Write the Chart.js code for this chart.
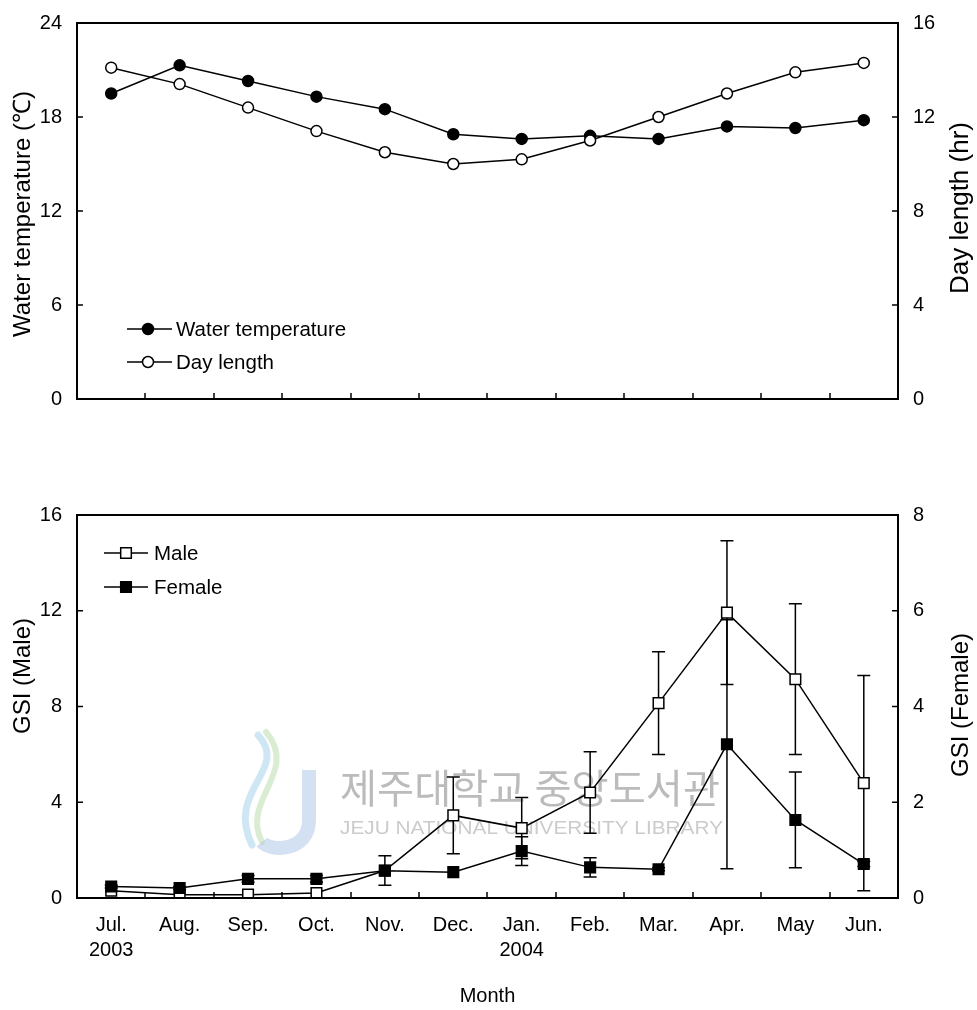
<!DOCTYPE html>
<html><head><meta charset="utf-8">
<script src="https://cdn.jsdelivr.net/npm/chart.js@4.4.1/dist/chart.umd.min.js"></script>
<style>
html,body{margin:0;padding:0;background:#fff;}
#wrap{position:relative;width:977px;height:1010px;overflow:hidden;}
#c1{position:absolute;left:0;top:-4px;}
#c2{position:absolute;left:0;top:460px;}
</style></head><body>
<div id="wrap"><canvas id="c1" width="977" height="454"></canvas><canvas id="c2" width="977" height="550"></canvas></div>
<script>
// ---------- data ----------
const months = ['Jul.','Aug.','Sep.','Oct.','Nov.','Dec.','Jan.','Feb.','Mar.','Apr.','May','Jun.'];
const years  = ['2003','','','','','','2004','','','','',''];
const waterTemp = [19.5, 21.3, 20.3, 19.3, 18.5, 16.9, 16.6, 16.8, 16.6, 17.4, 17.3, 17.8];
const dayLength = [14.1, 13.4, 12.4, 11.4, 10.5, 10.0, 10.2, 11.0, 12.0, 13.0, 13.9, 14.3];
const maleGSI   = [0.3, 0.14, 0.14, 0.21, 1.15, 3.45, 2.92, 4.41, 8.14, 11.92, 9.14, 4.8];
const maleErr   = [0, 0, 0, 0, 0.62, 1.6, 1.28, 1.7, 2.15, 3.0, 3.15, 4.5];
const femaleGSI = [0.24, 0.21, 0.4, 0.4, 0.57, 0.54, 0.98, 0.64, 0.6, 3.21, 1.63, 0.71];
const femaleErr = [0.03, 0.03, 0.07, 0.07, 0, 0, 0.3, 0.2, 0.03, 2.6, 1.0, 0.05];
const topLeftTicks = [0, 24, 6];   // min, max, step
const topRightTicks = [0, 16, 4];
const botLeftTicks = [0, 16, 4];
const botRightTicks = [0, 8, 2];

const FONT = '"Liberation Sans", Arial, sans-serif';
const TICK = 6;

function frameAndTicks(chart){
  const {ctx, chartArea:a} = chart;
  ctx.save();
  ctx.strokeStyle = '#000';
  ctx.lineWidth = 1.5;
  ctx.beginPath();
  const xs = chart.scales.x;
  for (let i = 1; i < xs.ticks.length; i++){
    const px = Math.round((xs.getPixelForTick(i-1) + xs.getPixelForTick(i)) / 2);
    ctx.moveTo(px, a.bottom); ctx.lineTo(px, a.bottom - TICK);
  }
  ['y','y1'].forEach(id => {
    const s = chart.scales[id];
    s.ticks.forEach(t => {
      const py = s.getPixelForValue(t.value);
      if (id === 'y'){ ctx.moveTo(a.left, py); ctx.lineTo(a.left + TICK, py); }
      else { ctx.moveTo(a.right, py); ctx.lineTo(a.right - TICK, py); }
    });
  });
  ctx.stroke();
  ctx.lineWidth = 2;
  ctx.strokeRect(a.left, a.top, a.right - a.left, a.bottom - a.top);
  ctx.restore();
}

function drawMarker(ctx, style, r, x, y, fill){
  ctx.save();
  ctx.fillStyle = fill; ctx.strokeStyle = '#000'; ctx.lineWidth = 1.5;
  ctx.beginPath();
  if (style === 'circle') ctx.arc(x, y, r, 0, Math.PI*2);
  else { const s = r * Math.SQRT1_2; ctx.rect(x - s, y - s, 2*s, 2*s); }
  ctx.fill(); ctx.stroke();
  ctx.restore();
}

const legendPlugin = {
  id: 'inlineLegend',
  afterDraw(chart, args, opts){
    const ctx = chart.ctx;
    ctx.save();
    opts.order.forEach((di, k) => {
      const ds = chart.data.datasets[di];
      const y = opts.ys[k];
      ctx.strokeStyle = '#000'; ctx.lineWidth = 1.5;
      ctx.beginPath(); ctx.moveTo(opts.x0, y); ctx.lineTo(opts.x1, y); ctx.stroke();
      drawMarker(ctx, ds.pointStyle, ds.pointRadius, opts.xm, y, ds.pointBackgroundColor);
      ctx.fillStyle = '#000';
      ctx.font = '20.5px ' + FONT;
      ctx.textBaseline = 'middle'; ctx.textAlign = 'left';
      ctx.fillText(ds.label, opts.xt, y + 1);
    });
    ctx.restore();
  }
};

const framePlugin = { id: 'frame', afterDraw(chart){ frameAndTicks(chart); } };

const errorPlugin = {
  id: 'errorBars',
  beforeDatasetsDraw(chart){
    const ctx = chart.ctx;
    ctx.save();
    ctx.strokeStyle = '#000'; ctx.lineWidth = 1.5;
    chart.data.datasets.forEach((ds, i) => {
      if (!ds.errors) return;
      const meta = chart.getDatasetMeta(i);
      const s = chart.scales[ds.yAxisID];
      ds.data.forEach((v, j) => {
        const e = ds.errors[j];
        if (!e) return;
        const x = meta.data[j].x;
        const yt = s.getPixelForValue(v + e), yb = s.getPixelForValue(Math.max(0, v - e));
        ctx.beginPath();
        ctx.moveTo(x, yt); ctx.lineTo(x, yb);
        ctx.moveTo(x - 6.5, yt); ctx.lineTo(x + 6.5, yt);
        ctx.moveTo(x - 6.5, yb); ctx.lineTo(x + 6.5, yb);
        ctx.stroke();
      });
    });
    ctx.restore();
  }
};

// axis titles, all reading bottom-to-top as in the reference
const sideTitlePlugin = {
  id: 'sideTitle',
  afterDraw(chart, args, opts){
    const ctx = chart.ctx;
    (opts.items || []).forEach(it => {
      ctx.save();
      ctx.translate(it.x, it.y);
      ctx.rotate(-Math.PI/2);
      ctx.font = it.size + 'px ' + FONT;
      ctx.fillStyle = '#000';
      ctx.textAlign = 'center'; ctx.textBaseline = 'middle';
      ctx.fillText(it.text, 0, 0);
      ctx.restore();
    });
  }
};

const watermarkPlugin = {
  id: 'watermark',
  beforeDatasetsDraw(chart, args, opts){
    if (!opts.show) return;
    const ctx = chart.ctx;
    ctx.save();
    ctx.globalAlpha = 0.5;
    ctx.lineCap = 'round';
    ctx.strokeStyle = '#9fd0ea'; ctx.lineWidth = 7;
    ctx.beginPath(); ctx.moveTo(258, 275); ctx.bezierCurveTo(290, 310, 225, 330, 252, 385); ctx.stroke();
    ctx.strokeStyle = '#b6dca8'; ctx.lineWidth = 6;
    ctx.beginPath(); ctx.moveTo(266, 272); ctx.bezierCurveTo(300, 312, 240, 340, 262, 382); ctx.stroke();
    ctx.strokeStyle = '#a9c4e6'; ctx.lineWidth = 14; ctx.lineCap = 'butt';
    ctx.beginPath(); ctx.moveTo(309, 310); ctx.lineTo(309, 360);
    ctx.bezierCurveTo(309, 392, 270, 392, 262, 382); ctx.stroke();
    ctx.globalAlpha = 1;
    ctx.fillStyle = 'rgba(150,150,150,0.65)';
    ctx.font = '40px "Noto Sans CJK KR", sans-serif';
    ctx.textBaseline = 'middle'; ctx.textAlign = 'left';
    const t1 = '제주대학교 중앙도서관';
    const w1 = ctx.measureText(t1).width;
    ctx.save(); ctx.translate(340, 328); ctx.scale(380 / w1, 1); ctx.fillText(t1, 0, 0); ctx.restore();
    ctx.font = '18px ' + FONT;
    const t2 = 'JEJU NATIONAL UNIVERSITY LIBRARY';
    const w2 = ctx.measureText(t2).width;
    ctx.fillStyle = 'rgba(160,160,160,0.55)';
    ctx.save(); ctx.translate(340, 369); ctx.scale(383 / w2, 1); ctx.fillText(t2, 0, 0); ctx.restore();
    ctx.restore();
  }
};

function yScale(pos, rng, width){
  return {
    position: pos, min: rng[0], max: rng[1],
    ticks: { stepSize: rng[2], color: '#000', font: { family: FONT, size: 20 }, padding: 15 },
    grid: { display: false, drawTicks: false },
    border: { display: false },
    title: { display: false },
    afterFit: s => { s.width = width; }
  };
}

const commonOpts = {
  responsive: false, animation: false,
  events: [],
  plugins: { legend: { display: false }, tooltip: { enabled: false } }
};

// ---------- top chart ----------
new Chart(document.getElementById('c1'), {
  type: 'line',
  data: {
    labels: months,
    datasets: [
      { label: 'Water temperature', data: waterTemp, yAxisID: 'y', borderColor: '#000', borderWidth: 1.5,
        pointStyle: 'circle', pointRadius: 5.5, pointBackgroundColor: '#000', pointBorderColor: '#000', pointBorderWidth: 1.5, order: 1 },
      { label: 'Day length', data: dayLength, yAxisID: 'y1', borderColor: '#000', borderWidth: 1.5,
        pointStyle: 'circle', pointRadius: 5.5, pointBackgroundColor: '#fff', pointBorderColor: '#000', pointBorderWidth: 1.5, order: 0 }
    ]
  },
  options: Object.assign({}, commonOpts, {
    layout: { padding: { top: 27, left: 0, right: 0, bottom: 0 } },
    scales: {
      x: { type: 'category', offset: true, grid: { display: false, drawTicks: false }, border: { display: false },
           ticks: { display: false }, afterFit: s => { s.height = 51; } },
      y: yScale('left', topLeftTicks, 77),
      y1: yScale('right', topRightTicks, 79)
    },
    plugins: Object.assign({}, commonOpts.plugins, {
      inlineLegend: { order: [0, 1], x0: 127, x1: 172, xm: 148, xt: 176, ys: [333, 366] },
      sideTitle: { items: [
        { text: 'Water temperature (℃)', x: 23, y: 218, size: 24 },
        { text: 'Day length (hr)', x: 961, y: 212, size: 26 }
      ] }
    })
  }),
  plugins: [framePlugin, legendPlugin, sideTitlePlugin]
});

// ---------- bottom chart ----------
const xLabels = months.map((m, i) => years[i] ? [m, years[i]] : m);
new Chart(document.getElementById('c2'), {
  type: 'line',
  data: {
    labels: xLabels,
    datasets: [
      { label: 'Male', data: maleGSI, errors: maleErr, yAxisID: 'y', borderColor: '#000', borderWidth: 1.5,
        pointStyle: 'rect', pointRadius: 7.5, pointBackgroundColor: '#fff', pointBorderColor: '#000', pointBorderWidth: 1.5, order: 1 },
      { label: 'Female', data: femaleGSI, errors: femaleErr, yAxisID: 'y1', borderColor: '#000', borderWidth: 1.5,
        pointStyle: 'rect', pointRadius: 7.5, pointBackgroundColor: '#000', pointBorderColor: '#000', pointBorderWidth: 1.5, order: 0 }
    ]
  },
  options: Object.assign({}, commonOpts, {
    layout: { padding: { top: 55, left: 0, right: 0, bottom: 0 } },
    scales: {
      x: { type: 'category', offset: true, grid: { display: false, drawTicks: false }, border: { display: false },
           ticks: { color: '#000', font: { family: FONT, size: 20, lineHeight: 1.25 }, padding: 15, autoSkip: false, maxRotation: 0 },
           title: { display: true, text: 'Month', color: '#000', font: { family: FONT, size: 20 }, padding: { top: 0, bottom: 2 } },
           afterFit: s => { s.height = 112; } },
      y: yScale('left', botLeftTicks, 77),
      y1: yScale('right', botRightTicks, 79)
    },
    plugins: Object.assign({}, commonOpts.plugins, {
      inlineLegend: { order: [0, 1], x0: 104, x1: 148, xm: 126, xt: 154, ys: [93, 127] },
      sideTitle: { items: [
        { text: 'GSI (Male)', x: 23, y: 216, size: 24 },
        { text: 'GSI (Female)', x: 961, y: 245, size: 24 }
      ] },
      watermark: { show: true }
    })
  }),
  plugins: [watermarkPlugin, errorPlugin, framePlugin, legendPlugin, sideTitlePlugin]
});
</script>
</body></html>
